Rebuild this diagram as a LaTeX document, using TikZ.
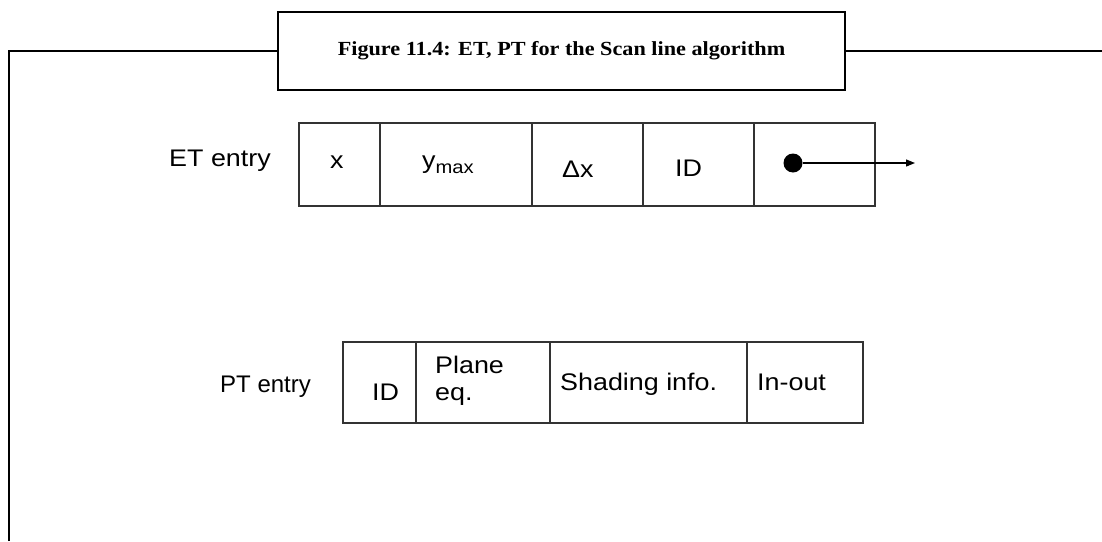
\documentclass[tikz,border=0pt]{standalone}
\usepackage{fontspec}
\setmainfont[FakeStretch=1.12]{Liberation Sans}
\newfontfamily\narrowfont{Liberation Sans}
\newfontfamily\capfont[FakeStretch=1.11]{Liberation Serif}
\usetikzlibrary{arrows.meta}
\begin{document}
\begin{tikzpicture}[x=1pt,y=-1pt,font=\fontsize{24}{27}\selectfont,
  lab/.style={anchor=base west,inner sep=0pt},
  framed/.style={line width=2.6pt,line join=miter},
  rowline/.style={line width=1.7pt,draw=black!80}]
\useasboundingbox (0,0) rectangle (1102,541);
% frame with caption
\node[framed,draw,minimum width=567pt,minimum height=78pt,
  font=\capfont\bfseries\fontsize{20}{24}\selectfont] (cap) at (561.5,51) {Figure 11.4: ET, PT for the Scan line algorithm};
\coordinate (fbot) at (9,541); \coordinate (fcorner) at (9,51); \coordinate (fright) at (1102,51);
\draw[framed] (fbot) -- (fcorner) -- (cap.west);
\draw[framed] (cap.east) -- (fright);
% ET entry
\node[lab] (etlab) at (169,166) {ET entry};
\draw[rowline] (299,123) rectangle (875,206);
\foreach \x in {380,532,643,754} \draw[rowline] (\x,123) -- (\x,206);
\node[lab] (etx) at (330,168) {x};
\node[lab] (etymax) at (422,168) {y\raisebox{-5pt}{\fontsize{18}{18}\selectfont max}};
\node[lab] (etdx) at (562,177) {Δx};
\node[lab] (etid) at (675,176) {ID};
\node[circle,fill,inner sep=0pt,minimum size=19pt] (etdot) at (793,163) {};
\coordinate (etend) at (915,163);
\draw[-{Triangle[length=9pt,width=7pt]},line width=1.2pt] (etdot) -- (etend);
% PT entry
\node[lab,font=\narrowfont\fontsize{24}{27}\selectfont] (ptlab) at (220,392) {PT entry};
\draw[rowline] (343,342) rectangle (863,423);
\foreach \x in {416,550,747} \draw[rowline] (\x,342) -- (\x,423);
\node[lab] (ptid) at (372,400) {ID};
\node[lab] (ptplane) at (435,373) {Plane};
\node[lab] (pteq) at (435,400) {eq.};
\node[lab] (ptshade) at (560,390) {Shading info.};
\node[lab] (ptinout) at (757,390) {In-out};
\end{tikzpicture}
\end{document}
